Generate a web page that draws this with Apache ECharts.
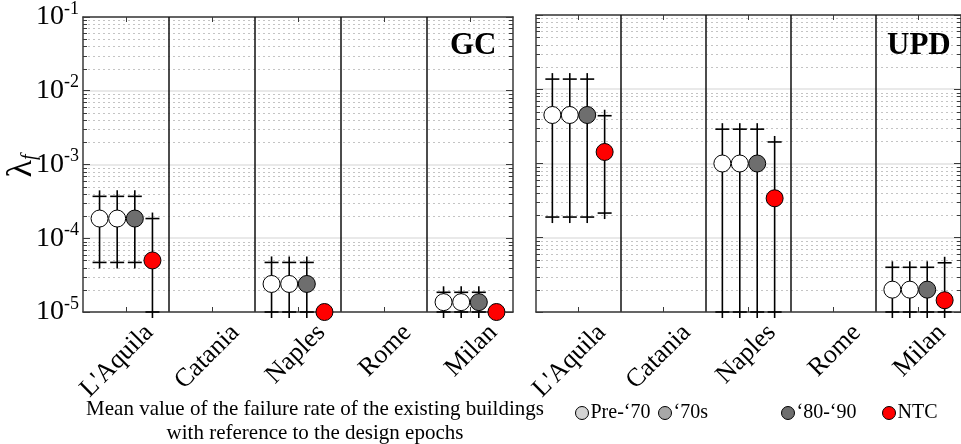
<!DOCTYPE html>
<html>
<head>
<meta charset="utf-8">
<script src="https://cdn.jsdelivr.net/npm/echarts@6/dist/echarts.min.js"></script>
<style>
  html, body { margin: 0; padding: 0; background: #fff; }
  #chart { width: 961px; height: 444px; }
</style>
</head>
<body>
<div id="chart"></div>
<script>
// Categories and design epochs
const cities = ["L'Aquila", "Catania", "Naples", "Rome", "Milan"];
const epochs = ["Pre-‘70", "‘70s", "‘80-‘90", "NTC"];
const panels = ["GC", "UPD"];

// Failure rate per city as [lower bound, mean, upper bound]; null = not assessed
const gcPre70  = [[4.7e-5, 1.85e-4, 3.7e-4], null, [1e-5, 2.4e-5, 4.7e-5], null, [1e-5, 1.36e-5, 1.85e-5]];
const gc70s    = [[4.7e-5, 1.85e-4, 3.7e-4], null, [1e-5, 2.4e-5, 4.7e-5], null, [1e-5, 1.36e-5, 1.85e-5]];
const gc8090   = [[4.7e-5, 1.85e-4, 3.7e-4], null, [1e-5, 2.4e-5, 4.7e-5], null, [1e-5, 1.36e-5, 1.85e-5]];
const gcNTC    = [[1e-5, 5.0e-5, 1.85e-4], null, [1e-5, 1e-5, 1e-5], null, [1e-5, 1e-5, 1e-5]];

const updPre70 = [[1.9e-4, 4.5e-3, 1.37e-2], null, [1e-5, 1.0e-3, 2.9e-3], null, [1e-5, 2.0e-5, 4.0e-5]];
const upd70s   = [[1.9e-4, 4.5e-3, 1.37e-2], null, [1e-5, 1.0e-3, 2.9e-3], null, [1e-5, 2.0e-5, 4.0e-5]];
const upd8090  = [[1.9e-4, 4.5e-3, 1.37e-2], null, [1e-5, 1.0e-3, 2.9e-3], null, [1e-5, 2.0e-5, 4.0e-5]];
const updNTC   = [[2.15e-4, 1.43e-3, 4.4e-3], null, [1e-5, 3.4e-4, 1.95e-3], null, [1e-5, 1.44e-5, 4.6e-5]];

// Y axis range (decades)
const yMin = 1e-5;
const yMax = 1e-1;

const SERIF = "'Liberation Serif', 'Times New Roman', serif";
const markerFill = ['#ffffff', '#ffffff', '#6e6e6e', '#ff0000'];
const legendFill = ['#d4d4d4', '#a8a8a8', '#6e6e6e', '#ff0000'];
const legendLeft = [570, 653, 776, 877];
const AXIS_COLOR = '#3a3a3a';

// minor log grid positions 2..9 x 10^n inside the range
const minorGrid = [];
for (let e = Math.log10(yMin); e < Math.log10(yMax); e++) {
  for (let k = 2; k <= 9; k++) minorGrid.push([0, k * Math.pow(10, e)]);
}

const grids = [
  { left: 83, top: 15, width: 430, height: 297 },
  { left: 536, top: 15, width: 430, height: 297 }
];

const xAxes = [];
const yAxes = [];
grids.forEach((g, gi) => {
  // bottom category axis with black separators between cities
  xAxes.push({
    type: 'category', gridIndex: gi, data: cities, position: 'bottom', z: 1,
    axisLine: { show: true, lineStyle: { color: AXIS_COLOR, width: 1.5 } },
    axisTick: { show: true, inside: true, alignWithLabel: true, length: 5, lineStyle: { color: AXIS_COLOR } },
    splitLine: { show: true, showMinLine: false, showMaxLine: false, lineStyle: { color: '#111', width: 1.5 } },
    axisLabel: {
      interval: 0, rotate: 45, margin: 40, padding: [0, -33, 0, 0],
      fontFamily: SERIF, fontSize: 26, color: '#000'
    }
  });
  // top frame with mirrored ticks
  xAxes.push({
    type: 'category', gridIndex: gi, data: cities, position: 'top',
    axisLine: { show: true, lineStyle: { color: AXIS_COLOR, width: 1.5 } },
    axisTick: { show: true, inside: true, alignWithLabel: true, length: 5, lineStyle: { color: AXIS_COLOR } },
    axisLabel: { show: false }, splitLine: { show: false }
  });
  yAxes.push({
    type: 'log', logBase: 10, gridIndex: gi, min: yMin, max: yMax, position: 'left',
    axisLine: { show: true, lineStyle: { color: AXIS_COLOR, width: 1.5 } },
    axisTick: { show: true, inside: true, length: 7, lineStyle: { color: AXIS_COLOR } },
    splitLine: { show: true, lineStyle: { color: '#e2e2e2', width: 1.5 } },
    axisLabel: {
      show: gi === 0, margin: 4, color: '#000',
      formatter: v => '{b|10}{s|' + Math.round(Math.log10(v)) + '}',
      rich: {
        b: { fontFamily: SERIF, fontSize: 28, lineHeight: 34, color: '#000' },
        s: { fontFamily: SERIF, fontSize: 18, lineHeight: 18, verticalAlign: 'top', color: '#000' }
      }
    }
  });
  yAxes.push({
    type: 'log', logBase: 10, gridIndex: gi, min: yMin, max: yMax, position: 'right',
    axisLine: { show: true, lineStyle: { color: AXIS_COLOR, width: 1.5 } },
    axisTick: { show: true, inside: true, length: 7, lineStyle: { color: AXIS_COLOR } },
    axisLabel: { show: false }, splitLine: { show: false }
  });
});

function gridLineSeries(gi) {
  return {
    type: 'custom', silent: true, z: -1,
    xAxisIndex: gi * 2, yAxisIndex: gi * 2,
    data: minorGrid, encode: { x: 0, y: 1 },
    renderItem(params, api) {
      const cs = params.coordSys;
      const y = Math.round(api.coord([0, api.value(1)])[1]) + 0.5;
      return {
        type: 'group',
        children: [
          { type: 'line', shape: { x1: cs.x, y1: y, x2: cs.x + cs.width, y2: y },
            style: { stroke: '#c4c4c4', lineWidth: 1, lineDash: [2, 3] } },
          { type: 'line', shape: { x1: cs.x, y1: y, x2: cs.x + 4, y2: y },
            style: { stroke: AXIS_COLOR, lineWidth: 1 } },
          { type: 'line', shape: { x1: cs.x + cs.width - 4, y1: y, x2: cs.x + cs.width, y2: y },
            style: { stroke: AXIS_COLOR, lineWidth: 1 } }
        ]
      };
    }
  };
}

// error bars end in "+" marks: the stem runs a little past each cap
function epochSeries(gi, slot, rows) {
  const data = [];
  rows.forEach((r, i) => { if (r) data.push([i, r[0], r[1], r[2]]); });
  return {
    type: 'custom', name: epochs[slot], clip: false, z: 10 + slot,
    xAxisIndex: gi * 2, yAxisIndex: gi * 2,
    itemStyle: { color: legendFill[slot] },
    data, encode: { x: 0, y: [1, 2, 3] },
    renderItem(params, api) {
      const band = api.size([1, 0])[0];
      const c = api.coord([api.value(0), api.value(2)]);
      const x = c[0] + (slot - 1.5) * 0.205 * band;
      const yLo = api.coord([api.value(0), api.value(1)])[1];
      const yHi = api.coord([api.value(0), api.value(3)])[1];
      const bar = { stroke: '#000', lineWidth: 1.6 };
      const children = [];
      if (Math.abs(yLo - yHi) > 1) {
        children.push(
          { type: 'line', shape: { x1: x, y1: yLo + 6, x2: x, y2: yHi - 6 }, style: bar },
          { type: 'line', shape: { x1: x - 7, y1: yLo, x2: x + 7, y2: yLo }, style: bar },
          { type: 'line', shape: { x1: x - 7, y1: yHi, x2: x + 7, y2: yHi }, style: bar }
        );
      }
      children.push({
        type: 'circle', shape: { cx: x, cy: c[1], r: 8.5 },
        style: { fill: markerFill[slot], stroke: '#000', lineWidth: 1 }
      });
      return { type: 'group', children };
    }
  };
}

const panelRows = [
  [gcPre70, gc70s, gc8090, gcNTC],
  [updPre70, upd70s, upd8090, updNTC]
];

const series = [];
panelRows.forEach((rows, gi) => {
  series.push(gridLineSeries(gi));
  rows.forEach((r, slot) => series.push(epochSeries(gi, slot, r)));
});

// one legend block per epoch, spaced as in the caption row
const legends = epochs.map((name, i) => ({
  left: legendLeft[i], top: 398, orient: 'horizontal',
  itemWidth: 13, itemHeight: 13, itemGap: 3, selectedMode: false,
  icon: 'circle',
  textStyle: { fontFamily: SERIF, fontSize: 20, color: '#000', padding: [0, 0, 0, -3] },
  data: [{ name, itemStyle: { color: legendFill[i], borderColor: '#000', borderWidth: 1 } }]
}));

const chart = echarts.init(document.getElementById('chart'), null, { renderer: 'canvas' });
chart.setOption({
  animation: false,
  backgroundColor: '#fff',
  grid: grids,
  xAxis: xAxes,
  yAxis: yAxes,
  legend: legends,
  series,
  graphic: [
    { type: 'text', left: 450, top: 30, z: 100,
      style: { text: panels[0], fontFamily: SERIF, fontWeight: 'bold', fontSize: 31, fill: '#000' } },
    { type: 'text', left: 887, top: 30, z: 100,
      style: { text: panels[1], fontFamily: SERIF, fontWeight: 'bold', fontSize: 31, fill: '#000' } },
    { type: 'text', x: 22, y: 166, rotation: Math.PI / 2, z: 100,
      style: {
        text: '{l|λ}{f|f}', align: 'center', verticalAlign: 'middle',
        rich: {
          l: { fontFamily: SERIF, fontSize: 36, fill: '#000' },
          f: { fontFamily: SERIF, fontStyle: 'italic', fontSize: 20, verticalAlign: 'bottom', fill: '#000' }
        }
      } },
    { type: 'text', x: 315, y: 409, z: 100,
      style: { text: 'Mean value of the failure rate of the existing buildings',
        align: 'center', verticalAlign: 'middle', fontFamily: SERIF, fontSize: 21, fill: '#000' } },
    { type: 'text', x: 315, y: 433, z: 100,
      style: { text: 'with reference to the design epochs',
        align: 'center', verticalAlign: 'middle', fontFamily: SERIF, fontSize: 21, fill: '#000' } }
  ]
});
</script>
</body>
</html>
